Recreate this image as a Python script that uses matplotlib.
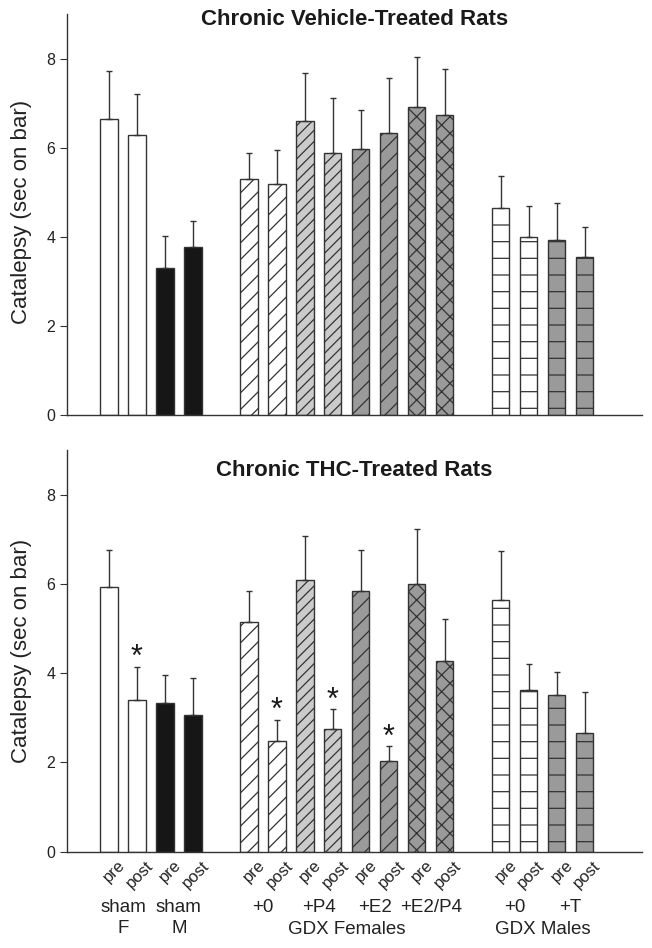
import matplotlib.pyplot as plt

plt.rcParams['font.family'] = ['Liberation Sans', 'DejaVu Sans']
plt.rcParams['hatch.linewidth'] = 0.9

# bar order: sham F, sham M, GDX F +0, +P4, +E2, +E2/P4, GDX M +0, +T (pre, post each)
conditions = ['pre', 'post'] * 8
group_labels = ['sham', 'sham', '+0', '+P4', '+E2', '+E2/P4', '+0', '+T']
group_labels2 = ['F', 'M', '', '', '', '', '', '']
super_groups = ['GDX Females', 'GDX Males']

veh_mean = [6.64, 6.28, 3.31, 3.77, 5.29, 5.19, 6.59, 5.87,
            5.96, 6.33, 6.91, 6.73, 4.64, 3.99, 3.92, 3.54]
veh_sem = [1.08, 0.92, 0.71, 0.59, 0.60, 0.76, 1.09, 1.25,
           0.89, 1.24, 1.13, 1.04, 0.72, 0.71, 0.83, 0.69]

thc_mean = [5.94, 3.41, 3.34, 3.07, 5.14, 2.49, 6.09, 2.75,
            5.83, 2.04, 6.00, 4.27, 5.63, 3.63, 3.51, 2.66]
thc_sem = [0.81, 0.73, 0.61, 0.83, 0.69, 0.46, 0.98, 0.44,
           0.94, 0.32, 1.23, 0.94, 1.10, 0.57, 0.51, 0.91]
thc_star = [False, True, False, False, False, True, False, True,
            False, True, False, False, False, False, False, False]

# look of each pair
group_colors = ['white', '#161616', 'white', '#cbcbcb',
                '#9a9a9a', '#9a9a9a', 'white', '#9a9a9a']
group_hatches = ['', '', '//', '///', '//', 'xx', '-', '-']

# x positions: gaps between sham / GDX females / GDX males
positions = [0, 1, 2, 3] + list(range(5, 13)) + list(range(14, 18))
colors = [c for c in group_colors for _ in range(2)]
hatches = [h for h in group_hatches for _ in range(2)]

fig = plt.figure(figsize=(6.52, 9.48), dpi=100)
ax1 = fig.add_axes([67 / 652, 1 - 415 / 948, 575 / 652, 401 / 948])
ax2 = fig.add_axes([67 / 652, 1 - 851.7 / 948, 575 / 652, 401.7 / 948])

edge = '#333333'


def draw_panel(ax, means, sems, title, title_y):
    ax.bar(positions, means, width=0.62, color=colors, edgecolor=edge,
           linewidth=1.0, hatch=hatches, zorder=2)
    ax.errorbar(positions, means, yerr=[[0] * len(sems), sems], fmt='none',
                ecolor=edge, elinewidth=1.0, capsize=2.5, capthick=1.0, zorder=3)
    ax.set_xlim(-1.5, 19.05)
    ax.set_ylim(0, 9)
    ax.set_yticks([0, 2, 4, 6, 8])
    ax.tick_params(axis='y', labelsize=11.5, direction='out', length=5,
                   color=edge, labelcolor='#222222')
    ax.set_xticks([])
    for s in ['top', 'right']:
        ax.spines[s].set_visible(False)
    for s in ['left', 'bottom']:
        ax.spines[s].set_color(edge)
        ax.spines[s].set_linewidth(1.0)
    ax.text(0.5, title_y, title, transform=ax.transAxes, ha='center',
            va='baseline', fontsize=16, fontweight='bold', color='#1a1a1a')


draw_panel(ax1, veh_mean, veh_sem, 'Chronic Vehicle-Treated Rats', 0.973)
draw_panel(ax2, thc_mean, thc_sem, 'Chronic THC-Treated Rats', 0.935)

for x, m, e, s in zip(positions, thc_mean, thc_sem, thc_star):
    if s:
        ax2.text(x, m + e + 0.02, '*', ha='center', va='baseline',
                 fontsize=22, color='#1a1a1a')

ylab = 'Catalepsy (sec on bar)'
fig.text(22 / 652, 1 - 212 / 948, ylab, rotation=90, ha='center', va='center',
         fontsize=16, color='#222222')
fig.text(22 / 652, 1 - 651 / 948, ylab, rotation=90, ha='center', va='center',
         fontsize=16, color='#222222')

# category labels under the lower panel
tr = ax2.get_xaxis_transform()
for x, c in zip(positions, conditions):
    ax2.text(x + 0.3, -0.015, c, transform=tr, rotation=45,
             rotation_mode='anchor', ha='right', va='top',
             fontsize=12, color='#222222')

for i in range(8):
    mid = (positions[2 * i] + positions[2 * i + 1]) / 2
    ax2.text(mid, -0.138, group_labels[i], transform=tr, ha='center',
             va='center', fontsize=13.5, color='#222222')
    if group_labels2[i]:
        ax2.text(mid, -0.19, group_labels2[i], transform=tr, ha='center',
                 va='center', fontsize=13.5, color='#222222')

ax2.text((positions[4] + positions[11]) / 2, -0.193, super_groups[0],
         transform=tr, ha='center', va='center', fontsize=13.5, color='#222222')
ax2.text((positions[12] + positions[15]) / 2, -0.193, super_groups[1],
         transform=tr, ha='center', va='center', fontsize=13.5, color='#222222')

fig.savefig('out.png', dpi=100)
